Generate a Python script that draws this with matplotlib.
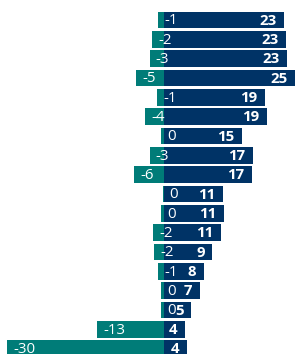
import matplotlib
matplotlib.use("Agg")
import matplotlib.pyplot as plt

# Bar lengths
pos_values = [23.0, 23.3, 23.5, 25.0, 19.3, 19.7, 14.9, 17.0, 16.8, 11.3, 11.5, 10.9, 9.2, 7.6, 6.9, 5.2, 4.0, 4.4]
neg_values = [-1.15, -2.3, -2.7, -5.35, -1.3, -3.6, -0.55, -2.7, -5.7, -0.2, -0.55, -2.1, -1.9, -1.15, -0.55, -0.55, -12.8, -30.0]
# Labels as shown
pos_labels = [23, 23, 23, 25, 19, 19, 15, 17, 17, 11, 11, 11, 9, 8, 7, 5, 4, 4]
neg_labels = [-1, -2, -3, -5, -1, -4, 0, -3, -6, 0, 0, -2, -2, -1, 0, 0, -13, -30]

NAVY = "#003366"
TEAL = "#007C78"
FONT = "Open Sans"

fig = plt.figure(figsize=(2.98, 3.54), dpi=100)
ax = fig.add_axes([0, 0, 1, 1])

y = list(range(len(pos_values)))
h = 0.855
ax.barh(y, pos_values, height=h, color=NAVY, linewidth=0)
ax.barh(y, neg_values, height=h, color=TEAL, linewidth=0)

for yi, pv, pl, nv, nl in zip(y, pos_values, pos_labels, neg_values, neg_labels):
    ax.annotate(f"{nl}", xy=(nv, yi), xytext=(4.3, -0.6), textcoords="offset points",
                ha="left", va="center", color="white", fontsize=10.8, family=FONT)
    ax.annotate(f"{pl}", xy=(pv, yi), xytext=(-5.4, -0.6), textcoords="offset points",
                ha="right", va="center", color="white", fontsize=10.8,
                fontweight="bold", family=FONT)

ax.set_xlim(-164 / 5.23, 134 / 5.23)
ax.set_ylim((354 - 20) / 19.33, -20 / 19.33)
ax.axis("off")

fig.savefig("out.png", dpi=100)
